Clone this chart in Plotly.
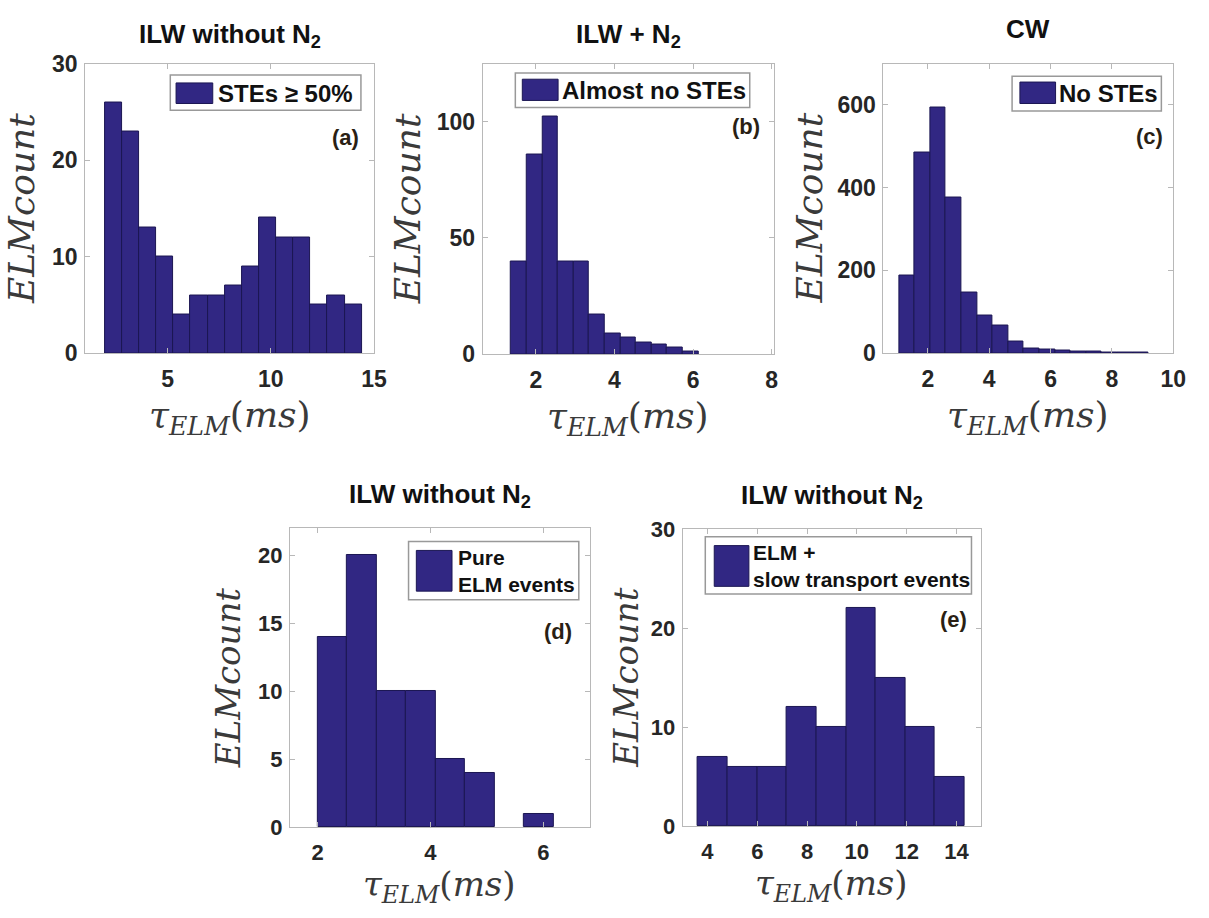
import numpy as np
import plotly.graph_objects as go

# ---------------- data ----------------
titles = ["ILW without N<sub>2</sub>", "ILW + N<sub>2</sub>", "CW",
          "ILW without N<sub>2</sub>", "ILW without N<sub>2</sub>"]
legend_texts = ["STEs ≥ 50%", "Almost no STEs", "No STEs",
                "Pure<br>ELM events", "ELM +<br>slow transport events"]
panel_labels = ["(a)", "(b)", "(c)", "(d)", "(e)"]

a_counts = [26, 23, 13, 10, 4, 6, 6, 7, 9, 14, 12, 12, 5, 6, 5]
a_bin_start, a_bin_width = 1.96, 0.83

b_counts = [40, 86, 102, 40, 40, 17, 9, 7, 5, 4, 3, 1]
b_bin_start, b_bin_width = 1.37, 0.397

c_counts = [188, 486, 594, 375, 147, 92, 66, 27, 12, 9, 7, 4, 3, 2, 2, 1]
c_bin_start, c_bin_width = 1.056, 0.509

d_counts = [14, 20, 10, 10, 5, 4, 0, 1]
d_bin_start, d_bin_width = 2.0, 0.523

e_counts = [7, 6, 6, 12, 10, 22, 15, 10, 5]
e_bin_start, e_bin_width = 3.62, 1.19

a_xticks, a_yticks = [5, 10, 15], [0, 10, 20, 30]
b_xticks, b_yticks = [2, 4, 6, 8], [0, 50, 100]
c_xticks, c_yticks = [2, 4, 6, 8, 10], [0, 200, 400, 600]
d_xticks, d_yticks = [2, 4, 6], [0, 5, 10, 15, 20]
e_xticks, e_yticks = [4, 6, 8, 10, 12, 14], [0, 10, 20, 30]

# ---------------- styling / layout ----------------
W, H = 1209, 918
BAR = "#312783"
BAR_EDGE = "#1b1652"
FRAME = "#b8b8b8"
TXT = "#262626"
SANS = "Liberation Sans"
SERIF = "DejaVu Serif"

def px_x(p):
    return p / W

def px_y(p):
    return 1 - p / H

# plot areas in pixels: (left, right, top, bottom)
areas = [(86, 378, 52, 350), (488, 782, 52, 351), (893, 1186, 52, 350),
         (293, 596, 530, 838), (690, 992, 531, 837)]
xranges = [[1, 15], [0.65, 8.05], [0.55, 10], [1.51, 6.82], [3, 15]]
yranges = [[0, 30], [0, 125], [0, 700], [0, 22], [0, 30]]
ylabel_x = [22, 412, 818, 230, 632]
title_dy = [29, 29, 36, 33, 33]          # px above plot top (title centre)
xtitle_dy = [66, 66, 66, 61, 61]         # px below plot bottom (x-title centre)
label_font = [36, 36, 36, 34, 34]
tick_font = [23, 23, 23, 22, 22]
legend_font = [24, 24, 24, 21, 21]
# legend geometry in axis-domain fractions: box(x0,x1,y0,y1), swatch(x0,x1,y0,y1), text x, text y
legend_geo = [
    ((0.295, 0.955, 0.839, 0.960), (0.315, 0.442, 0.862, 0.933), 0.452, 0.898),
    ((0.112, 0.918, 0.849, 0.967), (0.136, 0.259, 0.873, 0.946), 0.266, 0.908),
    ((0.444, 0.959, 0.836, 0.956), (0.471, 0.594, 0.862, 0.936), 0.600, 0.898),
    ((0.396, 0.964, 0.760, 0.955), (0.422, 0.541, 0.789, 0.925), 0.553, 0.857),
    ((0.076, 0.967, 0.781, 0.974), (0.106, 0.222, 0.807, 0.944), 0.229, 0.876),
]
label_pos = [(0.955, 0.745), (0.959, 0.783), (0.973, 0.748), (0.947, 0.653), (0.960, 0.696)]

counts_list = [a_counts, b_counts, c_counts, d_counts, e_counts]
bins = [(a_bin_start, a_bin_width), (b_bin_start, b_bin_width), (c_bin_start, c_bin_width),
        (d_bin_start, d_bin_width), (e_bin_start, e_bin_width)]
xticks = [a_xticks, b_xticks, c_xticks, d_xticks, e_xticks]
yticks = [a_yticks, b_yticks, c_yticks, d_yticks, e_yticks]

fig = go.Figure()
layout = dict(width=W, height=H, margin=dict(l=0, r=0, t=0, b=0),
              paper_bgcolor="white", plot_bgcolor="white", showlegend=False)
annotations = []
shapes = []

for i in range(5):
    n = "" if i == 0 else str(i + 1)
    xa, ya = "x" + n, "y" + n
    start, width = bins[i]
    counts = np.array(counts_list[i])
    centers = start + width * (np.arange(len(counts)) + 0.5)
    edge_w = [0 if c == 0 else 1 for c in counts]
    fig.add_trace(go.Bar(x=centers, y=counts, width=width, xaxis=xa, yaxis=ya,
                         marker=dict(color=BAR, line=dict(color=BAR_EDGE, width=edge_w)),
                         name=legend_texts[i].replace("<br>", " ")))
    l, r, t, b = areas[i]
    common = dict(showline=True, linecolor=FRAME, linewidth=1, mirror="ticks",
                  ticks="inside", ticklen=5, tickcolor=FRAME, showgrid=False,
                  zeroline=False, fixedrange=True,
                  tickfont=dict(family=SANS, size=tick_font[i], color=TXT, weight="bold"))
    layout["xaxis" + n] = dict(domain=[px_x(l), px_x(r)], anchor=ya, range=xranges[i],
                               tickmode="array", tickvals=xticks[i],
                               ticklabelstandoff=5, **common)
    layout["yaxis" + n] = dict(domain=[px_y(b), px_y(t)], anchor=xa, range=yranges[i],
                               tickmode="array", tickvals=yticks[i],
                               ticklabelstandoff=2, **common)
    cx = px_x((l + r) / 2)
    # title
    annotations.append(dict(text="<b>" + titles[i] + "</b>", xref="paper", yref="paper",
                            x=cx, y=px_y(t - title_dy[i]), xanchor="center", yanchor="middle",
                            showarrow=False, font=dict(family=SANS, size=26, color="#111111")))
    # y label
    annotations.append(dict(text="<i>ELMcount</i>", xref="paper", yref="paper",
                            x=px_x(ylabel_x[i]), y=px_y((t + b) / 2), textangle=-90,
                            xanchor="center", yanchor="middle", showarrow=False,
                            font=dict(family=SERIF, size=label_font[i], color="#3a3a3a")))
    # x label
    annotations.append(dict(text="<i>τ</i><sub><i>ELM</i></sub>(<i>ms</i>)", xref="paper",
                            yref="paper", x=cx, y=px_y(b + xtitle_dy[i]), xanchor="center",
                            yanchor="middle", showarrow=False,
                            font=dict(family=SERIF, size=label_font[i], color="#3a3a3a")))
    # legend box
    box, sw, tx, ty = legend_geo[i]
    shapes.append(dict(type="rect", xref=xa + " domain", yref=ya + " domain",
                       x0=box[0], x1=box[1], y0=box[2], y1=box[3],
                       fillcolor="white", line=dict(color="#999999", width=1.5)))
    shapes.append(dict(type="rect", xref=xa + " domain", yref=ya + " domain",
                       x0=sw[0], x1=sw[1], y0=sw[2], y1=sw[3],
                       fillcolor=BAR, line=dict(color=BAR_EDGE, width=1)))
    annotations.append(dict(text="<b>" + legend_texts[i] + "</b>", xref=xa + " domain",
                            yref=ya + " domain", x=tx, y=ty, xanchor="left",
                            yanchor="middle", align="left", showarrow=False,
                            font=dict(family=SANS, size=legend_font[i], color="#111111")))
    # panel label
    lx, ly = label_pos[i]
    annotations.append(dict(text="<b>" + panel_labels[i] + "</b>", xref=xa + " domain",
                            yref=ya + " domain", x=lx, y=ly, xanchor="right",
                            yanchor="middle", showarrow=False,
                            font=dict(family=SANS, size=22, color="#2a1f14")))

layout["annotations"] = annotations
layout["shapes"] = shapes
layout["bargap"] = 0
fig.update_layout(**layout)
fig.write_html("out.html")
